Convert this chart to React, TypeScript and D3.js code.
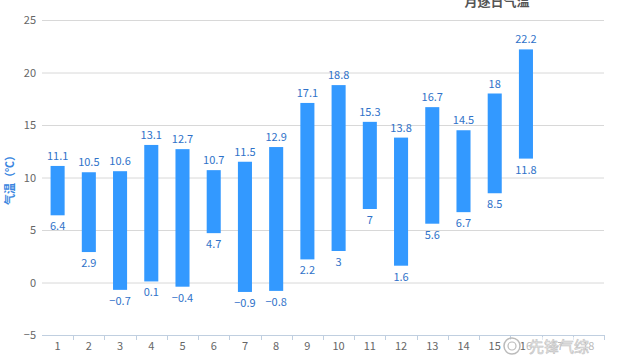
import { useEffect, useRef } from "react";
import * as d3 from "d3";

// catégories (jours) et valeurs
const days = ["1", "2", "3", "4", "5", "6", "7", "8", "9", "10", "11", "12", "13", "14", "15", "16", "17", "18"];
const maxTemps = [11.1, 10.5, 10.6, 13.1, 12.7, 10.7, 11.5, 12.9, 17.1, 18.8, 15.3, 13.8, 16.7, 14.5, 18, 22.2];
const minTemps = [6.4, 2.9, -0.7, 0.1, -0.4, 4.7, -0.9, -0.8, 2.2, 3, 7, 1.6, 5.6, 6.7, 8.5, 11.8];
const yTicks = [-5, 0, 5, 10, 15, 20, 25];

const W = 617;
const H = 360;

export default function App() {
  const svgRef = useRef<SVGSVGElement>(null);

  useEffect(() => {
    if (!svgRef.current) return;
    const svg = d3.select(svgRef.current);
    svg.selectAll("*").remove();

    const font = "'Microsoft YaHei', 'Noto Sans CJK SC', 'DejaVu Sans', sans-serif";
    const left = 42;
    const right = 604;
    const top = 20;
    const bottom = 335;

    const x = d3.scaleBand<string>().domain(days).range([left, right]);
    const y = d3.scaleLinear().domain([-5, 25]).range([bottom, top]);

    // grille
    svg
      .append("g")
      .selectAll("line")
      .data(yTicks)
      .enter()
      .append("line")
      .attr("x1", left)
      .attr("x2", right)
      .attr("y1", (d) => y(d) + 0.5)
      .attr("y2", (d) => y(d) + 0.5)
      .style("stroke", (d) => (d === -5 ? "#c0cfe0" : "#d8d8d8"))
      .style("stroke-width", 1);

    // labels Y
    svg
      .append("g")
      .selectAll("text")
      .data(yTicks)
      .enter()
      .append("text")
      .attr("x", 36)
      .attr("y", (d) => y(d) + 4)
      .attr("text-anchor", "end")
      .style("font-family", font)
      .style("font-size", "11px")
      .style("fill", "#666")
      .text((d) => (d < 0 ? "\u2212" + Math.abs(d) : String(d)));

    // axe X : ticks
    const bounds = days.map((d) => (x(d) || 0) + x.bandwidth());
    svg
      .append("g")
      .selectAll("line")
      .data(bounds)
      .enter()
      .append("line")
      .attr("x1", (d) => Math.round(d) + 0.5)
      .attr("x2", (d) => Math.round(d) + 0.5)
      .attr("y1", bottom)
      .attr("y2", bottom + 5)
      .style("stroke", "#c0cfe0");

    svg
      .append("g")
      .selectAll("text")
      .data(days)
      .enter()
      .append("text")
      .attr("x", (d) => (x(d) || 0) + x.bandwidth() / 2)
      .attr("y", bottom + 15)
      .attr("text-anchor", "middle")
      .style("font-family", font)
      .style("font-size", "11px")
      .style("fill", "#666")
      .text((d) => d);

    // barres
    const entries = maxTemps.map((hi, i) => ({ day: days[i], hi, lo: minTemps[i] }));
    const bw = x.bandwidth() * 0.45;

    svg
      .append("g")
      .selectAll("rect")
      .data(entries)
      .enter()
      .append("rect")
      .attr("x", (d) => (x(d.day) || 0) + (x.bandwidth() - bw) / 2)
      .attr("y", (d) => y(d.hi))
      .attr("width", bw)
      .attr("height", (d) => y(d.lo) - y(d.hi))
      .attr("fill", "#3399ff");

    const labels = svg.append("g").style("font-family", font).style("font-size", "11px").style("fill", "#2f72c9");

    labels
      .selectAll(".hi")
      .data(entries)
      .enter()
      .append("text")
      .attr("x", (d) => (x(d.day) || 0) + x.bandwidth() / 2)
      .attr("y", (d) => y(d.hi) - 6)
      .attr("text-anchor", "middle")
      .text((d) => String(d.hi));

    labels
      .selectAll(".lo")
      .data(entries)
      .enter()
      .append("text")
      .attr("x", (d) => (x(d.day) || 0) + x.bandwidth() / 2)
      .attr("y", (d) => y(d.lo) + 15)
      .attr("text-anchor", "middle")
      .text((d) => (d.lo < 0 ? "\u2212" + Math.abs(d.lo) : String(d.lo)));

    // titre axe Y
    svg
      .append("text")
      .attr("transform", `translate(14,${y(10)}) rotate(-90)`)
      .attr("text-anchor", "middle")
      .style("font-family", font)
      .style("font-size", "11px")
      .style("font-weight", "bold")
      .style("fill", "#3a86e0")
      .text("气温（℃）");

    // titre
    svg
      .append("text")
      .attr("x", 497)
      .attr("y", 6)
      .attr("text-anchor", "middle")
      .style("font-family", font)
      .style("font-size", "13px")
      .style("font-weight", "bold")
      .style("fill", "#555")
      .text("月逐日气温");

    // filigrane (voile blanc sur les derniers libellés)
    const wm = svg.append("g");
    wm.append("rect").attr("x", 526).attr("y", 337).attr("width", 78).attr("height", 20).style("fill", "#fff").style("opacity", 0.55);
    wm.append("circle").attr("cx", 512).attr("cy", 346).attr("r", 8).style("fill", "#fff").style("fill-opacity", 0.5).style("stroke", "#bbb").style("stroke-width", 1.5);
    wm.append("circle").attr("cx", 512).attr("cy", 346).attr("r", 4).style("fill", "none").style("stroke", "#bbb").style("stroke-width", 1.2);
    wm.append("text")
      .attr("x", 529)
      .attr("y", 352)
      .style("font-family", font)
      .style("font-size", "15px")
      .style("fill", "#eee")
      .style("stroke", "#c4c4c4")
      .style("stroke-width", 0.6)
      .text("先锋气综");
  }, []);

  return (
    <div style={{ position: "absolute", left: 0, top: 0, width: W, height: H, background: "#fff" }}>
      <svg ref={svgRef} width={W} height={H} />
    </div>
  );
}
